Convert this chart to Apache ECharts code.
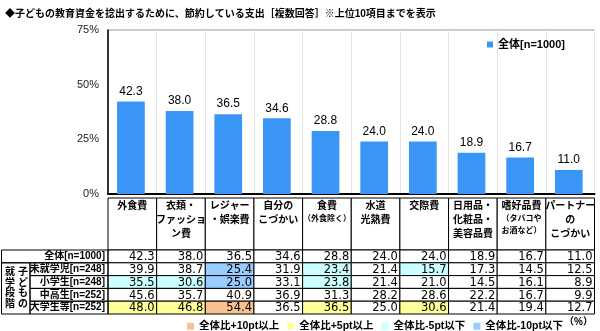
<!DOCTYPE html>
<html><head><meta charset="utf-8">
<script src="https://cdn.jsdelivr.net/npm/echarts@6/dist/echarts.min.js"></script>
<style>html,body{margin:0;padding:0;background:#fff}#c{width:600px;height:331px}</style>
</head><body><div id="c"></div>
<script>
// ---- data ----
const categories = ['外食費','衣類・ファッション費','レジャー・娯楽費','自分のこづかい','食費（外食除く）','水道光熱費','交際費','日用品・化粧品・美容品費','嗜好品費（タバコやお酒など）','パートナーのこづかい'];
const headerLines = [
  ['外食費'],
  ['衣類・','ファッショ','ン費'],
  ['レジャー','・娯楽費'],
  ['自分の','こづかい'],
  ['食費','（外食除く）'],
  ['水道','光熱費'],
  ['交際費'],
  ['日用品・','化粧品・','美容品費'],
  ['嗜好品費','（タバコや','お酒など）'],
  ['パートナー','の','こづかい']
];
const totalValues     = [42.3, 38.0, 36.5, 34.6, 28.8, 24.0, 24.0, 18.9, 16.7, 11.0];
const preschoolValues = [39.9, 38.7, 25.4, 31.9, 23.4, 21.4, 15.7, 17.3, 14.5, 12.5];
const elementaryValues= [35.5, 30.6, 25.0, 33.1, 23.8, 21.4, 21.0, 14.5, 16.1, 8.9];
const secondaryValues = [45.6, 35.7, 40.9, 36.9, 31.3, 28.2, 28.6, 22.2, 16.7, 9.9];
const universityValues= [48.0, 46.8, 54.4, 36.5, 36.5, 25.0, 30.6, 21.4, 19.4, 12.7];
const rowNames = ['全体[n=1000]','未就学児[n=248]','小学生[n=248]','中高生[n=252]','大学生等[n=252]'];
const groupLabel = ['子どもの','就学段階'];
const seriesName = '全体[n=1000]';
const legendNames = ['全体比+10pt以上','全体比+5pt以上','全体比-5pt以下','全体比-10pt以下'];
const yMin = 0, yMax = 75, yInterval = 25;
const titleText = '◆子どもの教育資金を捻出するために、節約している支出［複数回答］※上位10項目までを表示';

// ---- style ----
const BAR = '#3a96f6';
const legendColors = ['#fac090', '#ffff99', '#ccffff', '#99ccff'];
const rows = [totalValues, preschoolValues, elementaryValues, secondaryValues, universityValues];
const FONT = '"Liberation Sans","Noto Sans CJK JP",sans-serif';

const tableData = [];
rows.forEach((vals, r) => vals.forEach((v, c) => tableData.push([c, r, v])));
const headerData = categories.map((c, i) => [i, 0]);

function cellFill(col, row, v) {
  if (row === 0) return '#fff';
  const d = Math.round((v - totalValues[col]) * 10) / 10;
  if (d >= 10) return legendColors[0];
  if (d >= 5) return legendColors[1];
  if (d <= -10) return legendColors[3];
  if (d <= -5) return legendColors[2];
  return '#fff';
}

const chart = echarts.init(document.getElementById('c'), null, {renderer: 'canvas'});
const L = 108, W = 486.5;
chart.setOption({
  animation: false,
  textStyle: {fontFamily: FONT},
  title: {text: titleText, left: 0, top: 4, textStyle: {fontSize: 10, fontWeight: 'bold', color: '#000', fontFamily: FONT}},
  legend: [
    {data: [seriesName], left: 482, top: 34, itemWidth: 6, itemHeight: 6, itemGap: 6, itemTextGap: 2,
     icon: 'rect', textStyle: {fontSize: 11, fontWeight: 'bold', color: '#000'}},
    {data: legendNames, left: 182, top: 316, itemWidth: 7, itemHeight: 7, itemGap: 8, itemTextGap: 2,
     icon: 'rect', textStyle: {fontSize: 10.5, fontWeight: 'bold', color: '#000'}}
  ],
  grid: [
    {left: L, top: 30, width: W, height: 164, show: true, borderColor: '#999', borderWidth: 1},
    {left: L, top: 198, width: W, height: 52},
    {left: L, top: 250, width: W, height: 64}
  ],
  xAxis: [
    {gridIndex: 0, type: 'category', data: categories, axisLabel: {show: false}, axisTick: {show: false},
     axisLine: {lineStyle: {color: '#000', width: 2}},
     splitLine: {show: true, interval: 0, lineStyle: {color: '#e4e4e4', width: 1}}},
    {gridIndex: 1, type: 'category', data: categories, show: false},
    {gridIndex: 2, type: 'category', data: categories, show: false}
  ],
  yAxis: [
    {gridIndex: 0, type: 'value', min: yMin, max: yMax, interval: yInterval,
     axisLabel: {formatter: '{value}%', fontSize: 11, color: '#222', margin: 9},
     axisLine: {show: true, lineStyle: {color: '#000', width: 1.5}}, axisTick: {show: false},
     splitLine: {show: false}},
    {gridIndex: 1, type: 'category', data: ['h'], show: false},
    {gridIndex: 2, type: 'category', data: rowNames, inverse: true,
     axisLine: {show: false}, axisTick: {show: false},
     axisLabel: {interval: 0, fontSize: 10, fontWeight: 'bold', color: '#000', margin: 3}}
  ],
  series: [
    {name: seriesName, type: 'bar', xAxisIndex: 0, yAxisIndex: 0, data: totalValues, barWidth: '57%',
     itemStyle: {color: BAR},
     label: {show: true, position: 'top', distance: 4, fontSize: 12, color: '#000',
             formatter: p => p.value.toFixed(1)}},
    ...legendNames.map((n, i) => ({name: n, type: 'bar', xAxisIndex: 0, yAxisIndex: 0, data: [],
      itemStyle: {color: legendColors[i]}})),
    {type: 'custom', xAxisIndex: 1, yAxisIndex: 1, data: headerData, clip: false,
     renderItem: function (params, api) {
       const i = api.value(0);
       const c = api.coord([i, 0]), s = api.size([1, 1]);
       const x0 = c[0] - s[0] / 2, y0 = c[1] - s[1] / 2;
       const txt = headerLines[i].map(l => (/[（）]/.test(l) ? '{s|' + l + '}' : '{b|' + l + '}')).join('\n');
       return {type: 'group', children: [
         {type: 'rect', shape: {x: x0, y: y0, width: s[0], height: s[1]}, style: {fill: '#fff', stroke: '#000', lineWidth: 1}},
         {type: 'text', style: {text: txt, x: c[0], y: y0 + 1, align: 'center', verticalAlign: 'top',
           rich: {b: {fontSize: 10, fontWeight: 'bold', lineHeight: 14, fill: '#000', fontFamily: FONT},
                  s: {fontSize: 8, fontWeight: 'bold', lineHeight: 12, fill: '#000', fontFamily: FONT}}}}
       ]};
     }},
    {type: 'custom', xAxisIndex: 2, yAxisIndex: 2, data: tableData, clip: false, z: 3,
     renderItem: function (params, api) {
       const col = api.value(0), row = api.value(1), v = api.value(2);
       const c = api.coord([col, row]), s = api.size([1, 1]);
       const x0 = c[0] - s[0] / 2, y0 = c[1] - s[1] / 2, w = s[0], h = s[1];
       const ch = [
         {type: 'rect', shape: {x: x0, y: y0, width: w, height: h}, style: {fill: cellFill(col, row, v), stroke: '#000', lineWidth: 1}},
         {type: 'text', style: {text: v.toFixed(1), x: x0 + w - 2, y: y0 + h + 0.5, align: 'right', verticalAlign: 'bottom',
           fontSize: 11.5, fontFamily: '"DejaVu Sans",sans-serif', fill: '#000'}}
       ];
       if (col === 0) {
         const lx = row === 0 ? 1.5 : 30;
         ch.push({type: 'rect', shape: {x: lx, y: y0, width: x0 - lx, height: h}, style: {fill: 'none', stroke: '#000', lineWidth: 1}});
         if (row === 1) {
           ch.push({type: 'rect', shape: {x: 1.5, y: y0, width: 28.5, height: h * 4}, style: {fill: 'none', stroke: '#000', lineWidth: 1}});
           const mid = y0 + h * 2;
           ch.push({type: 'text', style: {text: groupLabel[0].split('').join('\n'), x: 23, y: mid, align: 'center', verticalAlign: 'middle',
             fontSize: 10, fontWeight: 'bold', lineHeight: 10.5, fontFamily: FONT, fill: '#000'}});
           ch.push({type: 'text', style: {text: groupLabel[1].split('').join('\n'), x: 10, y: mid, align: 'center', verticalAlign: 'middle',
             fontSize: 10, fontWeight: 'bold', lineHeight: 10.5, fontFamily: FONT, fill: '#000'}});
         }
       }
       return {type: 'group', children: ch};
     }}
  ],
  graphic: [
    {type: 'text', left: 564, top: 317, style: {text: '（%）', fontSize: 10, fontWeight: 'bold', fill: '#000', fontFamily: FONT}}
  ]
});
</script></body></html>
